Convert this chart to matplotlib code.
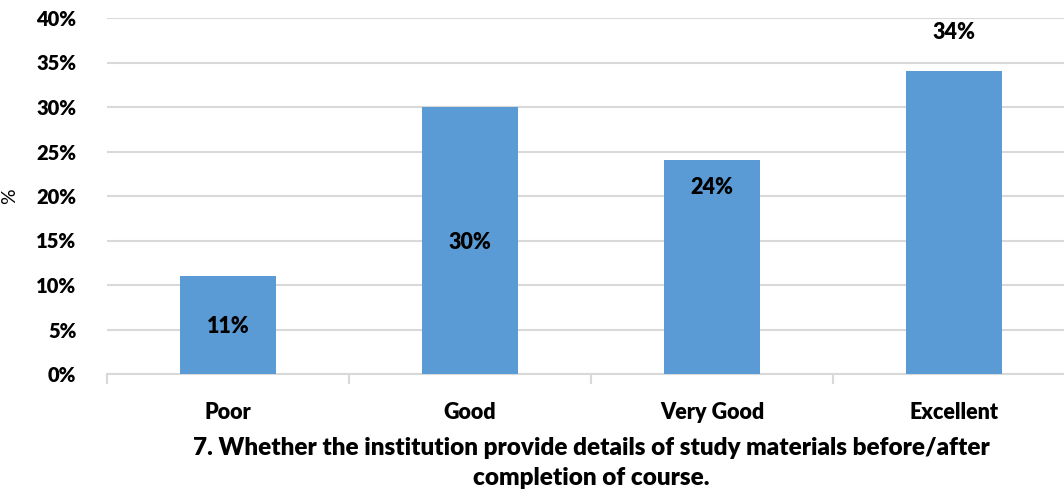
import matplotlib.pyplot as plt
import numpy as np

# Data
categories = ['Poor', 'Good', 'Very Good', 'Excellent']
values = [11, 30, 24, 34]
# where Excel put the data labels (in % units)
label_pos = [5.3, 14.8, 20.9, 38.4]
yticks = [0, 5, 10, 15, 20, 25, 30, 35, 40]

BAR_COLOR = '#5B9BD5'
GRID_COLOR = '#D9D9D9'
FONT = ['Lato', 'DejaVu Sans']
W = 'heavy'

plt.rcParams['font.family'] = FONT

fig = plt.figure(figsize=(10.64, 4.91), dpi=100)
ax = fig.add_axes([107 / 1064, 117 / 491, 968 / 1064, 356 / 491])

x = np.arange(len(categories))
ax.bar(x, values, width=0.4, color=BAR_COLOR, zorder=3)

for xi, v, ly in zip(x, values, label_pos):
    ax.text(xi, ly, '%d%%' % v, ha='center', va='center',
            fontsize=15.5, fontweight=W, color='black', zorder=4)

ax.set_xlim(-0.5, len(categories) - 0.5)
ax.set_ylim(0, 40)
ax.set_yticks(yticks)
ax.set_yticklabels(['%d%%' % t for t in yticks], fontsize=14.5, fontweight=W)
ax.yaxis.grid(True, color=GRID_COLOR, linewidth=1.5, zorder=0)
ax.tick_params(axis='y', length=0, pad=22)

ax.set_xticks(x)
ax.set_xticklabels(categories, fontsize=15.5, fontweight=W)
ax.set_xticks(np.arange(-0.5, len(categories)), minor=True)
ax.tick_params(axis='x', which='major', length=0, pad=20)
ax.tick_params(axis='x', which='minor', length=7, width=1.5, color=GRID_COLOR)

for s in ['top', 'right', 'left']:
    ax.spines[s].set_visible(False)
ax.spines['bottom'].set_color(GRID_COLOR)
ax.spines['bottom'].set_linewidth(1.5)

ax.set_xlabel('7. Whether the institution provide details of study materials before/after\ncompletion of course.',
              fontsize=17.5, fontweight=W, labelpad=10, linespacing=1.45)
ax.yaxis.set_label_coords(-0.092, 0.5)
ax.set_ylabel('%', fontsize=14)

fig.savefig('out.png', dpi=100)
